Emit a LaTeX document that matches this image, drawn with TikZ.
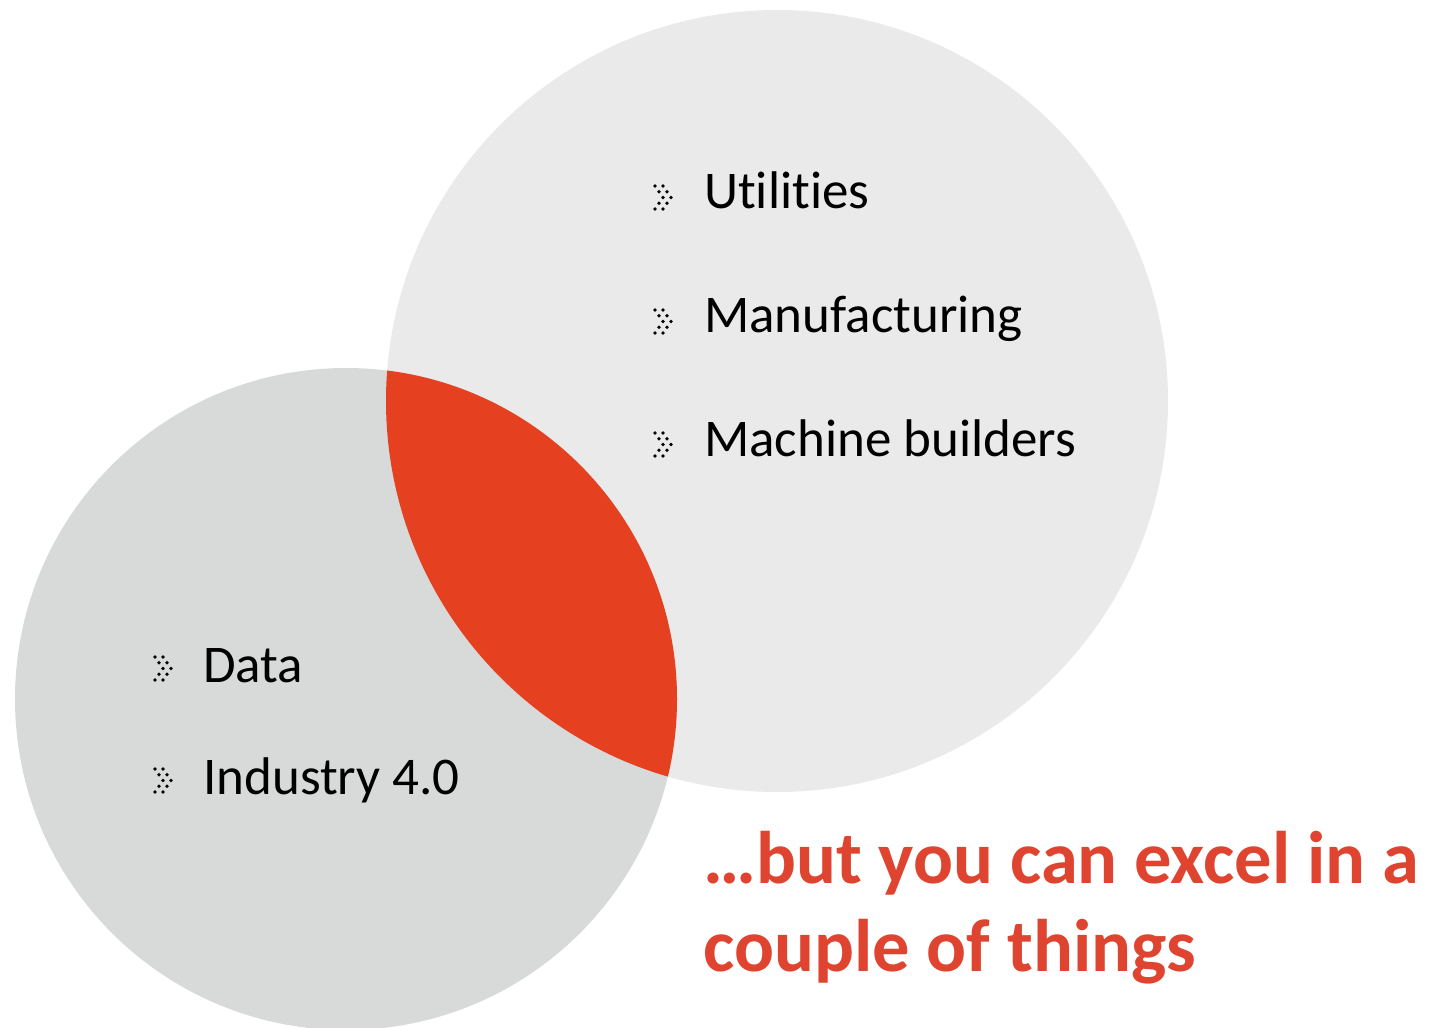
\documentclass[tikz,border=0pt]{standalone}
\usepackage{fontspec}
\setmainfont[Ligatures=NoCommon]{Carlito}
\definecolor{bigc}{HTML}{EAEAEA}
\definecolor{smallc}{HTML}{D8D9D9}
\definecolor{lensc}{HTML}{E5401F}
\definecolor{redtxt}{HTML}{DF4430}
\tikzset{
  item/.style={anchor=base west, inner sep=0pt, font=\fontsize{53}{64}\selectfont, text=black},
  punch/.style={anchor=base west, inner sep=0pt, font=\bfseries\fontsize{74.5}{88}\selectfont, text=redtxt},
  chev/.pic={
    \foreach \px/\py in {0/0,8/0,4/5.75,12/5.75,8/11.5,16/11.5,4/17.25,12/17.25,0/23,8/23}
      \fill[black] (\px pt,-\py pt) circle[radius=1.8pt];
  }
}
\begin{document}
\begin{tikzpicture}[x=1pt,y=-1pt]
\useasboundingbox (0,0) rectangle (1430,1028);
\fill[bigc] (777,401) circle[radius=391pt];
\fill[smallc] (346,699) circle[radius=331pt];
\begin{scope}
  \clip (777,401) circle[radius=391pt];
  \fill[lensc] (346,699) circle[radius=331pt];
\end{scope}
\node[item] (u) at (704,208) {Utilities};
\node[item] (m) at (704,332) {Manufacturing};
\node[item] (mb) at (704,456) {Machine builders};
\node[item] (d) at (203,682) {Data};
\node[item] (i) at (203,794) {Industry 4.0};
\pic at (655,186) {chev};
\pic at (655,310) {chev};
\pic at (655,433) {chev};
\pic at (155,657) {chev};
\pic at (155,769) {chev};
\node[punch] (p1) at (703,883) {…but you can excel in a};
\node[punch] (p2) at (703,971) {couple of things};
\end{tikzpicture}
\end{document}
